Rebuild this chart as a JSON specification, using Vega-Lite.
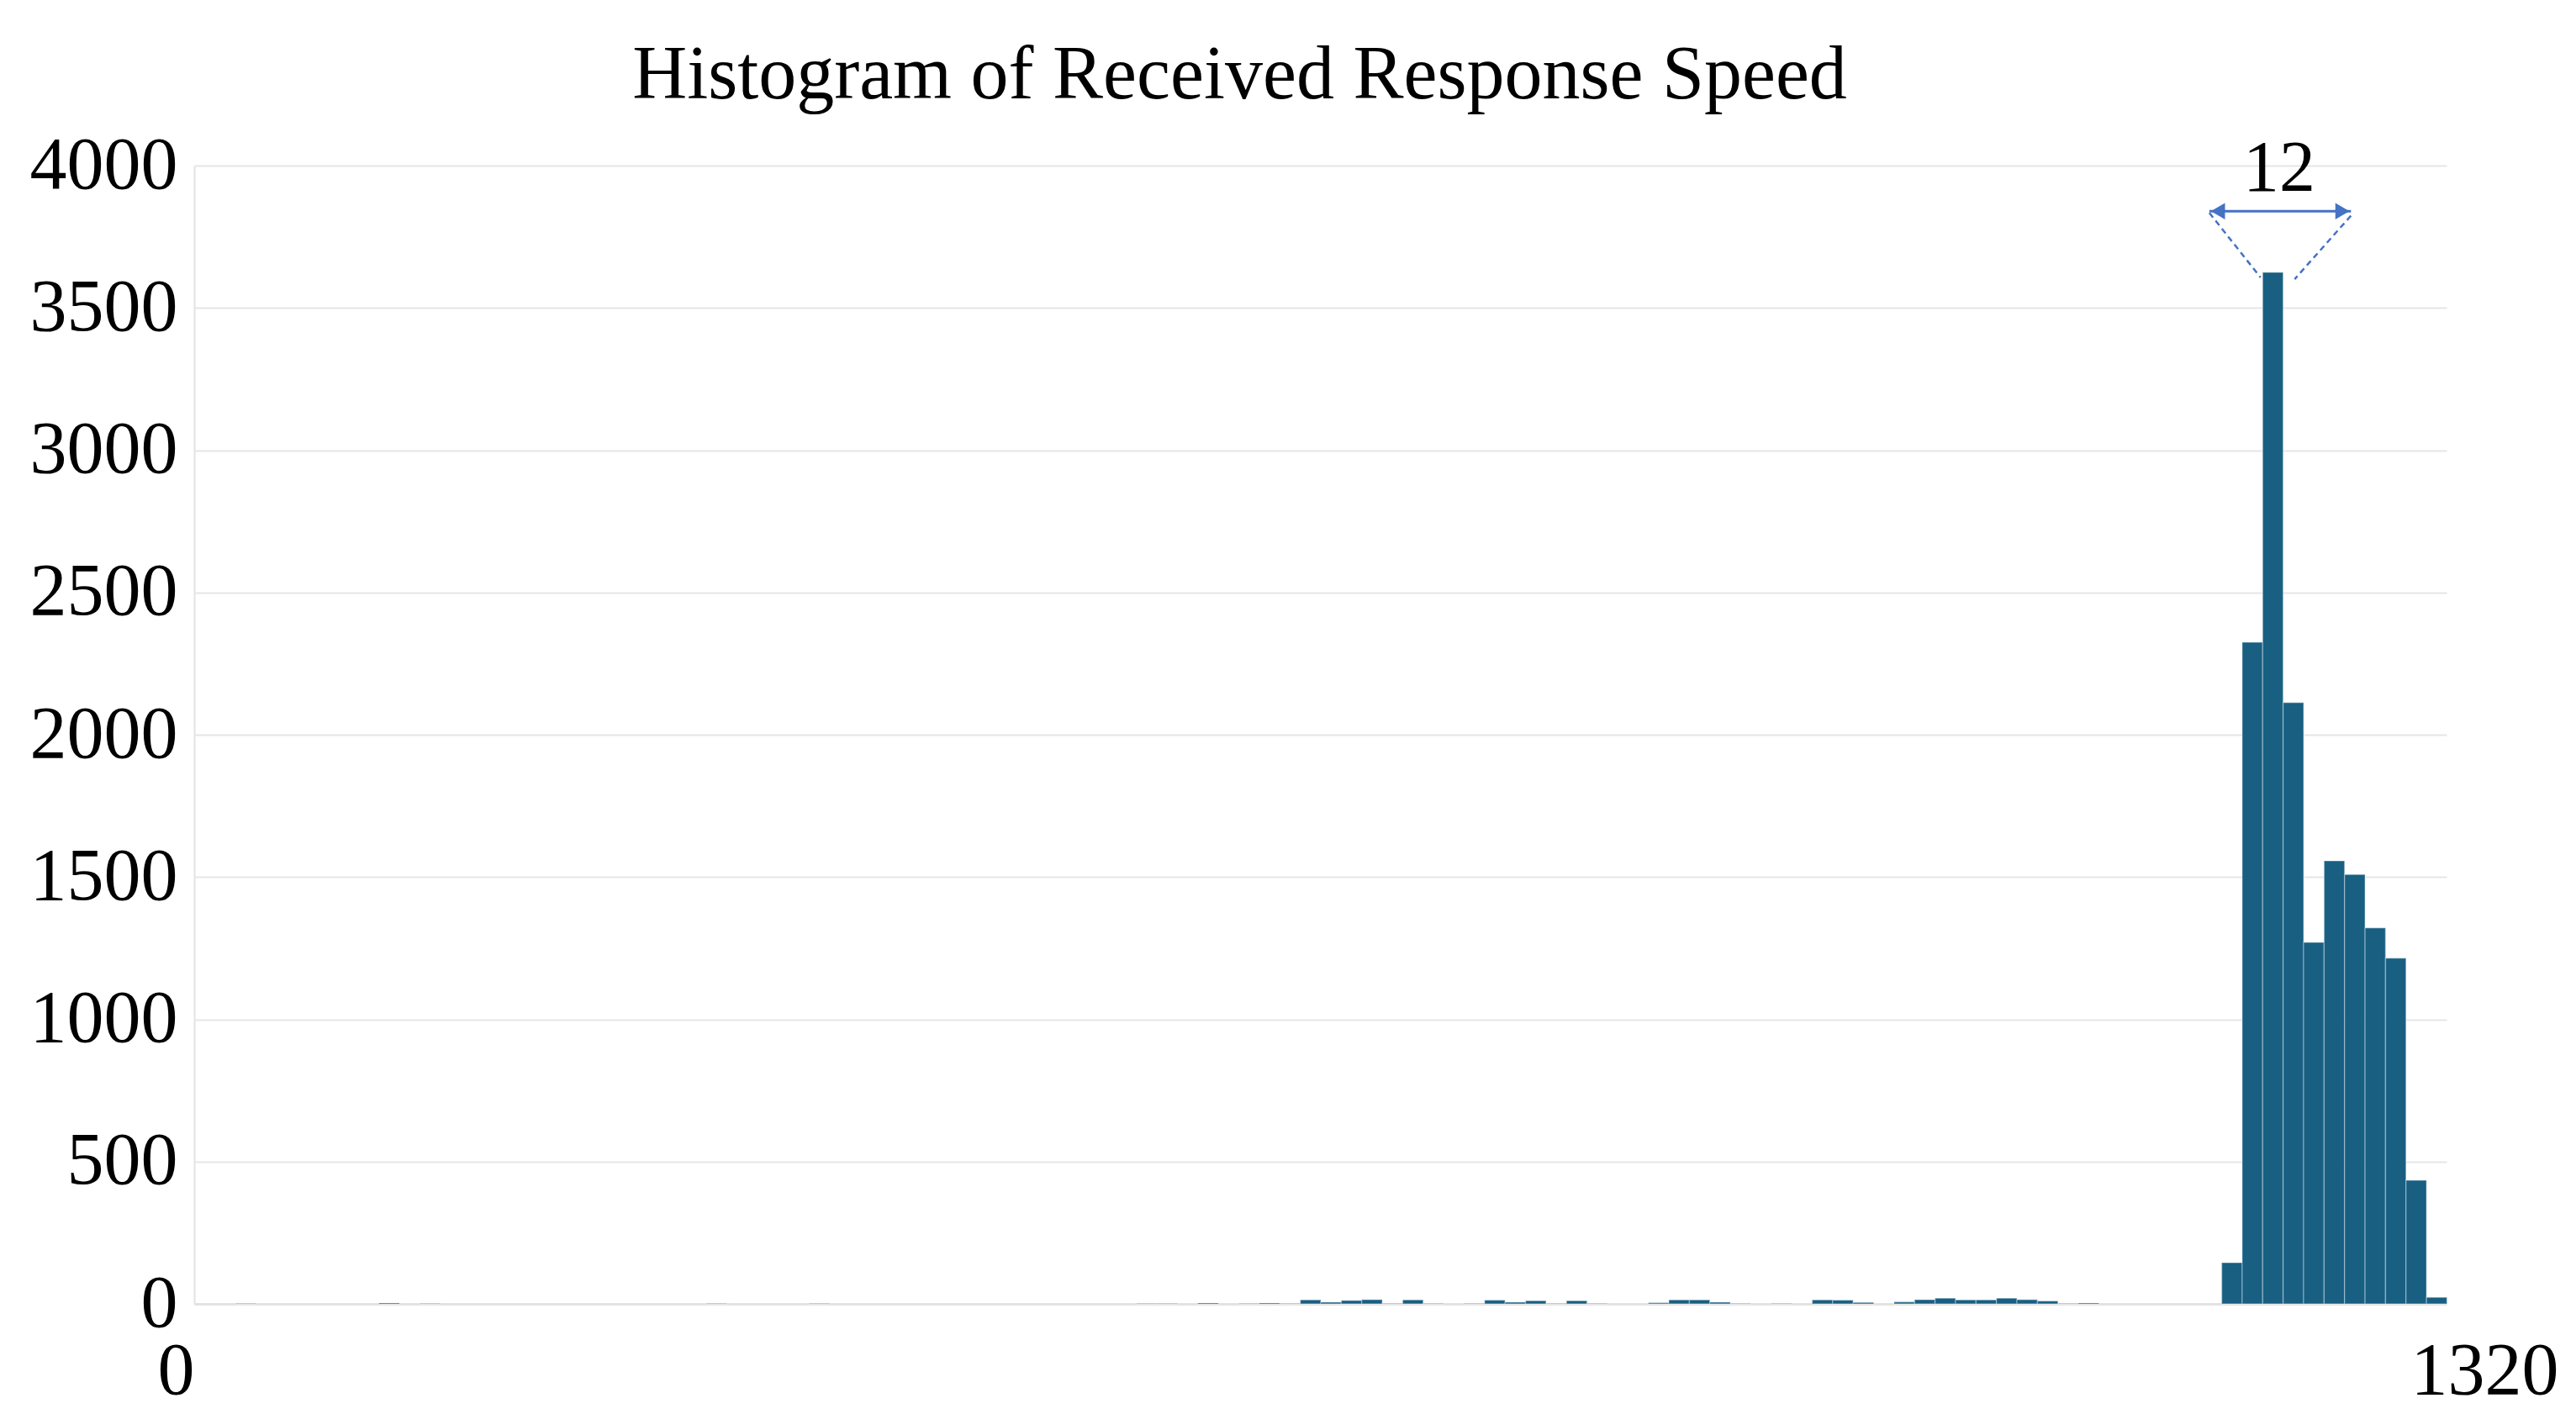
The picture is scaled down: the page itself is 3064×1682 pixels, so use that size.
{
  "$schema": "https://vega.github.io/schema/vega-lite/v6.json",
  "width": 2679,
  "height": 1354,
  "autosize": {"type": "none"},
  "padding": {"left": 231, "top": 197, "right": 154, "bottom": 131},
  "background": "white",
  "title": {
    "text": "Histogram of Received Response Speed",
    "font": "Liberation Serif",
    "fontSize": 90,
    "fontWeight": "normal",
    "color": "black",
    "anchor": "middle",
    "frame": "group",
    "dx": -96,
    "offset": 17
  },
  "config": {"view": {"stroke": null}},
  "datasets": {
    "bins": [
      {"speed_start": 24, "speed_end": 36, "count": 1},
      {"speed_start": 108, "speed_end": 120, "count": 3},
      {"speed_start": 132, "speed_end": 144, "count": 1},
      {"speed_start": 300, "speed_end": 312, "count": 1},
      {"speed_start": 360, "speed_end": 372, "count": 1},
      {"speed_start": 552, "speed_end": 564, "count": 1},
      {"speed_start": 564, "speed_end": 576, "count": 1},
      {"speed_start": 588, "speed_end": 600, "count": 3},
      {"speed_start": 612, "speed_end": 624, "count": 1},
      {"speed_start": 624, "speed_end": 636, "count": 3},
      {"speed_start": 636, "speed_end": 648, "count": 1},
      {"speed_start": 648, "speed_end": 660, "count": 14},
      {"speed_start": 660, "speed_end": 672, "count": 6},
      {"speed_start": 672, "speed_end": 684, "count": 12},
      {"speed_start": 684, "speed_end": 696, "count": 15},
      {"speed_start": 696, "speed_end": 708, "count": 1},
      {"speed_start": 708, "speed_end": 720, "count": 14},
      {"speed_start": 720, "speed_end": 732, "count": 1},
      {"speed_start": 744, "speed_end": 756, "count": 1},
      {"speed_start": 756, "speed_end": 768, "count": 13},
      {"speed_start": 768, "speed_end": 780, "count": 6},
      {"speed_start": 780, "speed_end": 792, "count": 11},
      {"speed_start": 792, "speed_end": 804, "count": 1},
      {"speed_start": 804, "speed_end": 816, "count": 11},
      {"speed_start": 816, "speed_end": 828, "count": 1},
      {"speed_start": 852, "speed_end": 864, "count": 4},
      {"speed_start": 864, "speed_end": 876, "count": 14},
      {"speed_start": 876, "speed_end": 888, "count": 14},
      {"speed_start": 888, "speed_end": 900, "count": 6},
      {"speed_start": 900, "speed_end": 912, "count": 1},
      {"speed_start": 924, "speed_end": 936, "count": 1},
      {"speed_start": 948, "speed_end": 960, "count": 14},
      {"speed_start": 960, "speed_end": 972, "count": 13},
      {"speed_start": 972, "speed_end": 984, "count": 5},
      {"speed_start": 996, "speed_end": 1008, "count": 7},
      {"speed_start": 1008, "speed_end": 1020, "count": 15},
      {"speed_start": 1020, "speed_end": 1032, "count": 20},
      {"speed_start": 1032, "speed_end": 1044, "count": 14},
      {"speed_start": 1044, "speed_end": 1056, "count": 14},
      {"speed_start": 1056, "speed_end": 1068, "count": 20},
      {"speed_start": 1068, "speed_end": 1080, "count": 15},
      {"speed_start": 1080, "speed_end": 1092, "count": 10},
      {"speed_start": 1092, "speed_end": 1104, "count": 1},
      {"speed_start": 1104, "speed_end": 1116, "count": 3},
      {"speed_start": 1188, "speed_end": 1200, "count": 145},
      {"speed_start": 1200, "speed_end": 1212, "count": 2325},
      {"speed_start": 1212, "speed_end": 1224, "count": 3625},
      {"speed_start": 1224, "speed_end": 1236, "count": 2113},
      {"speed_start": 1236, "speed_end": 1248, "count": 1270},
      {"speed_start": 1248, "speed_end": 1260, "count": 1557},
      {"speed_start": 1260, "speed_end": 1272, "count": 1509},
      {"speed_start": 1272, "speed_end": 1284, "count": 1321},
      {"speed_start": 1284, "speed_end": 1296, "count": 1215},
      {"speed_start": 1296, "speed_end": 1308, "count": 434},
      {"speed_start": 1308, "speed_end": 1320, "count": 23}
    ],
    "arrow": [{"x_start": 1181, "x_end": 1264, "y": 3840}],
    "heads": [
      {"x": 1186, "y": 3840, "dir": "left"},
      {"x": 1259, "y": 3840, "dir": "right"}
    ],
    "dashes": [
      {"x_start": 1181, "y_start": 3834, "x_end": 1211, "y_end": 3607},
      {"x_start": 1264, "y_start": 3824, "x_end": 1231, "y_end": 3601}
    ],
    "label": [{"x": 1222, "y": 3912, "text": "12"}]
  },
  "layer": [
    {
      "data": {"name": "bins"},
      "mark": {"type": "bar", "color": "#185F82", "stroke": "#ffffff", "strokeOpacity": 0.3, "strokeWidth": 1.5, "binSpacing": 0},
      "encoding": {
        "x": {
          "field": "speed_start",
          "type": "quantitative",
          "bin": {"binned": true, "step": 12},
          "title": null,
          "scale": {"domain": [0, 1320], "nice": false, "zero": false},
          "axis": {
            "title": null,
            "values": [0, 1320],
            "grid": false,
            "ticks": false,
            "tickSize": 0,
            "domain": true,
            "domainColor": "#E3E3E3",
            "domainWidth": 3,
            "labelFont": "Liberation Serif",
            "labelFontSize": 88,
            "labelColor": "black",
            "labelPadding": 36,
            "labelFlush": false,
            "labelOverlap": false,
            "labelOffset": {"condition": {"test": "datum.value == 0", "value": -22}, "value": 45},
            "format": "d"
          }
        },
        "x2": {"field": "speed_end"},
        "y": {
          "field": "count",
          "type": "quantitative",
          "title": null,
          "scale": {"domain": [0, 4000], "nice": false},
          "axis": {
            "title": null,
            "values": [0, 500, 1000, 1500, 2000, 2500, 3000, 3500, 4000],
            "grid": true,
            "gridColor": "#E6E6E6",
            "gridWidth": 2,
            "ticks": false,
            "tickSize": 0,
            "domain": true,
            "domainColor": "#E3E3E3",
            "domainWidth": 2,
            "labelFont": "Liberation Serif",
            "labelFontSize": 88,
            "labelColor": "black",
            "labelPadding": 20,
            "labelFlush": false,
            "labelOverlap": false,
            "format": "d"
          }
        }
      }
    },
    {
      "data": {"name": "arrow"},
      "mark": {"type": "rule", "color": "#4472C4", "strokeWidth": 3},
      "encoding": {
        "x": {"field": "x_start", "type": "quantitative", "title": null},
        "x2": {"field": "x_end"},
        "y": {"field": "y", "type": "quantitative", "title": null}
      }
    },
    {
      "data": {"name": "dashes"},
      "mark": {"type": "rule", "color": "#4472C4", "strokeWidth": 2.5, "strokeDash": [7, 5]},
      "encoding": {
        "x": {"field": "x_start", "type": "quantitative", "title": null},
        "x2": {"field": "x_end"},
        "y": {"field": "y_start", "type": "quantitative", "title": null},
        "y2": {"field": "y_end"}
      }
    },
    {
      "data": {"name": "heads"},
      "mark": {"type": "point", "filled": true, "color": "#4472C4", "opacity": 1, "size": 380},
      "encoding": {
        "x": {"field": "x", "type": "quantitative", "title": null},
        "y": {"field": "y", "type": "quantitative", "title": null},
        "shape": {"field": "dir", "type": "nominal", "scale": {"domain": ["left", "right"], "range": ["triangle-left", "triangle-right"]}, "legend": null}
      }
    },
    {
      "data": {"name": "label"},
      "mark": {"type": "text", "font": "Liberation Serif", "fontSize": 86, "color": "black", "baseline": "alphabetic", "align": "center"},
      "encoding": {
        "x": {"field": "x", "type": "quantitative", "title": null},
        "y": {"field": "y", "type": "quantitative", "title": null},
        "text": {"field": "text", "type": "nominal"}
      }
    }
  ]
}
